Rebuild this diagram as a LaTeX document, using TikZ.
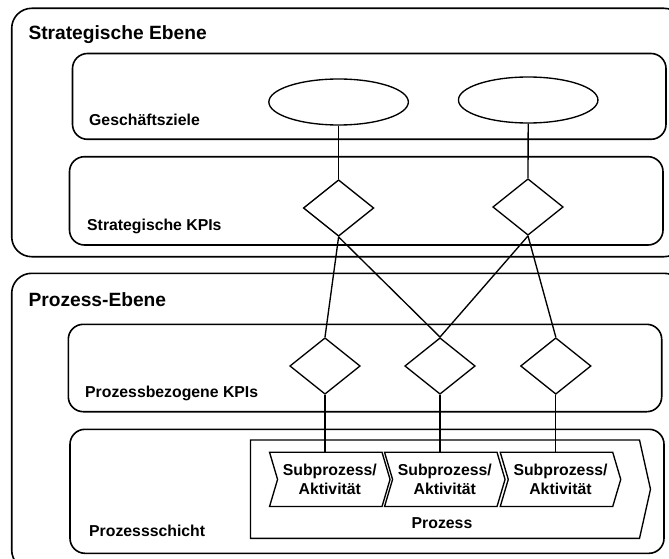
\documentclass[tikz,border=0pt]{standalone}
\usepackage{fontspec}
\setmainfont{Liberation Sans}
\usetikzlibrary{shapes.geometric,shapes.symbols}
\begin{document}
\begin{tikzpicture}[x=1pt,y=-1pt,
  layerbox/.style={draw=black,line width=1.6pt,rounded corners=20pt},
  bandbox/.style={draw=black,line width=1.6pt,rounded corners=15pt},
  layertitle/.style={anchor=base west,inner sep=0pt,font=\bfseries\fontsize{19.2}{23}\selectfont},
  bandtitle/.style={anchor=base west,inner sep=0pt,font=\bfseries\fontsize{15.8}{19}\selectfont},
  goal/.style={ellipse,draw=black,line width=1.35pt,fill=white,minimum width=139.5pt,minimum height=46pt,inner sep=0pt},
  kpi/.style={diamond,draw=black,line width=1.35pt,fill=white,minimum width=70.5pt,minimum height=56.5pt,inner sep=0pt},
  link/.style={draw=black,line width=1.35pt},
  process/.style={signal,signal to=east,signal from=nowhere,signal pointer angle=154.8,draw=black,line width=1.35pt,minimum width=400pt,minimum height=98.3pt,inner sep=0pt},
  subproc/.style={signal,signal to=east,signal from=west,signal pointer angle=147,draw=black,line width=1.35pt,fill=white,minimum width=120.5pt,minimum height=54.2pt,inner sep=0pt,align=center,font=\bfseries\fontsize{15.8}{19}\selectfont},
]
\useasboundingbox (0,0) rectangle (669,559);
\clip (0,0) rectangle (669,559);

% strategic layer
\draw[layerbox] (11.7,8.3) rectangle (684,256.7);
\node[layertitle] (tstrat) at (28.3,40) {Strategische Ebene};
\draw[bandbox] (72.5,53.5) rectangle (666,139.3);
\node[bandtitle] (tgoals) at (89,125) {Geschäftsziele};
\draw[bandbox] (69.5,156.7) rectangle (663,245);
\node[bandtitle] (tskpi) at (87,230.5) {Strategische KPIs};

% process layer
\draw[layerbox] (11.7,273.3) rectangle (684,570);
\node[layertitle] (tproc) at (28.3,306.7) {Prozess-Ebene};
\draw[bandbox] (68.3,324.3) rectangle (661.7,411.7);
\node[bandtitle] (tpkpi) at (85,397.7) {Prozessbezogene KPIs};
\draw[bandbox] (70,429.3) rectangle (664,553.3);
\node[bandtitle] (tlayer) at (89,536.7) {Prozessschicht};

% process chain
\node[process] (proc) at (445,489.2) {};
\node[anchor=base,inner sep=0pt,font=\bfseries\fontsize{15.8}{19}\selectfont] (tprocess) at (442,528) {Prozess};
\node[subproc] (c1) at (329.8,479.4) {Subprozess/\\Aktivität};
\node[subproc] (c2) at (444.8,479.4) {Subprozess/\\Aktivität};
\node[subproc] (c3) at (560.5,479.4) {Subprozess/\\Aktivität};

% goals and KPIs
\node[goal] (g1) at (338.6,102) {};
\node[goal] (g2) at (528.2,100) {};
\node[kpi] (s1) at (338.6,208) {};
\node[kpi] (s2) at (528,207) {};
\node[kpi] (p1) at (325,366) {};
\node[kpi] (p2) at (440,366) {};
\node[kpi] (p3) at (555.8,366) {};

% connections
\draw[link] (g1.south) -- (s1.north);
\draw[link] (g2.south) -- (s2.north);
\draw[link] (s1.south) -- (p1.north);
\draw[link] (s1.south) -- (p2.north);
\draw[link] (s2.south) -- (p2.north);
\draw[link] (s2.south) -- (p3.north);
\draw[link] (p1.south) -- (p1.south |- c1.north);
\draw[link] (p2.south) -- (p2.south |- c2.north);
\draw[link] (p3.south) -- (p3.south |- c3.north);
\end{tikzpicture}
\end{document}
